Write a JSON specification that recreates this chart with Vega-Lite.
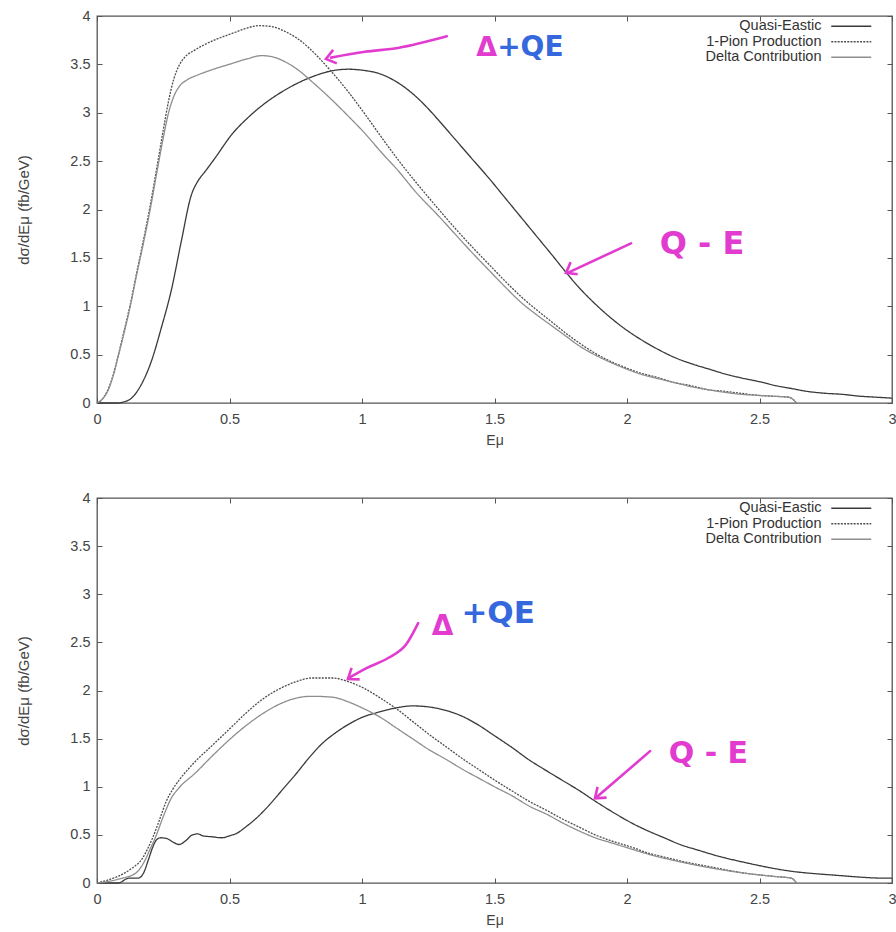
{
  "$schema": "https://vega.github.io/schema/vega-lite/v6.json",
  "background": "white",
  "padding": {"top": 7, "left": 16, "right": 0, "bottom": 0},
  "spacing": 40,
  "datasets": {
    "top": [
      {"s": "Quasi-Eastic", "E": 0, "v": 0}, {"s": "Quasi-Eastic", "E": 0.08, "v": 0}, {"s": "Quasi-Eastic", "E": 0.1, "v": 0.01}, {"s": "Quasi-Eastic", "E": 0.13, "v": 0.05}, {"s": "Quasi-Eastic", "E": 0.167, "v": 0.19}, {"s": "Quasi-Eastic", "E": 0.205, "v": 0.43}, {"s": "Quasi-Eastic", "E": 0.243, "v": 0.78}, {"s": "Quasi-Eastic", "E": 0.28, "v": 1.16}, {"s": "Quasi-Eastic", "E": 0.318, "v": 1.67}, {"s": "Quasi-Eastic", "E": 0.356, "v": 2.15}, {"s": "Quasi-Eastic", "E": 0.38, "v": 2.29}, {"s": "Quasi-Eastic", "E": 0.41, "v": 2.4}, {"s": "Quasi-Eastic", "E": 0.445, "v": 2.53}, {"s": "Quasi-Eastic", "E": 0.51, "v": 2.78}, {"s": "Quasi-Eastic", "E": 0.57, "v": 2.95}, {"s": "Quasi-Eastic", "E": 0.63, "v": 3.09}, {"s": "Quasi-Eastic", "E": 0.7, "v": 3.22}, {"s": "Quasi-Eastic", "E": 0.76, "v": 3.31}, {"s": "Quasi-Eastic", "E": 0.82, "v": 3.38}, {"s": "Quasi-Eastic", "E": 0.88, "v": 3.43}, {"s": "Quasi-Eastic", "E": 0.95, "v": 3.45}, {"s": "Quasi-Eastic", "E": 1.0, "v": 3.44}, {"s": "Quasi-Eastic", "E": 1.07, "v": 3.4}, {"s": "Quasi-Eastic", "E": 1.13, "v": 3.32}, {"s": "Quasi-Eastic", "E": 1.19, "v": 3.2}, {"s": "Quasi-Eastic", "E": 1.24, "v": 3.07}, {"s": "Quasi-Eastic", "E": 1.29, "v": 2.92}, {"s": "Quasi-Eastic", "E": 1.35, "v": 2.73}, {"s": "Quasi-Eastic", "E": 1.41, "v": 2.54}, {"s": "Quasi-Eastic", "E": 1.48, "v": 2.32}, {"s": "Quasi-Eastic", "E": 1.54, "v": 2.12}, {"s": "Quasi-Eastic", "E": 1.6, "v": 1.92}, {"s": "Quasi-Eastic", "E": 1.66, "v": 1.72}, {"s": "Quasi-Eastic", "E": 1.72, "v": 1.52}, {"s": "Quasi-Eastic", "E": 1.77, "v": 1.35}, {"s": "Quasi-Eastic", "E": 1.82, "v": 1.19}, {"s": "Quasi-Eastic", "E": 1.87, "v": 1.05}, {"s": "Quasi-Eastic", "E": 1.93, "v": 0.9}, {"s": "Quasi-Eastic", "E": 1.99, "v": 0.77}, {"s": "Quasi-Eastic", "E": 2.05, "v": 0.66}, {"s": "Quasi-Eastic", "E": 2.12, "v": 0.55}, {"s": "Quasi-Eastic", "E": 2.18, "v": 0.47}, {"s": "Quasi-Eastic", "E": 2.25, "v": 0.4}, {"s": "Quasi-Eastic", "E": 2.31, "v": 0.35}, {"s": "Quasi-Eastic", "E": 2.37, "v": 0.3}, {"s": "Quasi-Eastic", "E": 2.43, "v": 0.26}, {"s": "Quasi-Eastic", "E": 2.5, "v": 0.22}, {"s": "Quasi-Eastic", "E": 2.56, "v": 0.18}, {"s": "Quasi-Eastic", "E": 2.62, "v": 0.15}, {"s": "Quasi-Eastic", "E": 2.68, "v": 0.12}, {"s": "Quasi-Eastic", "E": 2.75, "v": 0.1}, {"s": "Quasi-Eastic", "E": 2.81, "v": 0.09}, {"s": "Quasi-Eastic", "E": 2.88, "v": 0.07}, {"s": "Quasi-Eastic", "E": 2.94, "v": 0.06}, {"s": "Quasi-Eastic", "E": 3.0, "v": 0.05},
      {"s": "1-Pion Production", "E": 0, "v": 0}, {"s": "1-Pion Production", "E": 0.02, "v": 0.04}, {"s": "1-Pion Production", "E": 0.04, "v": 0.13}, {"s": "1-Pion Production", "E": 0.06, "v": 0.28}, {"s": "1-Pion Production", "E": 0.079, "v": 0.48}, {"s": "1-Pion Production", "E": 0.1, "v": 0.72}, {"s": "1-Pion Production", "E": 0.124, "v": 1.0}, {"s": "1-Pion Production", "E": 0.15, "v": 1.35}, {"s": "1-Pion Production", "E": 0.175, "v": 1.68}, {"s": "1-Pion Production", "E": 0.2, "v": 2.03}, {"s": "1-Pion Production", "E": 0.225, "v": 2.42}, {"s": "1-Pion Production", "E": 0.25, "v": 2.82}, {"s": "1-Pion Production", "E": 0.27, "v": 3.12}, {"s": "1-Pion Production", "E": 0.29, "v": 3.35}, {"s": "1-Pion Production", "E": 0.31, "v": 3.49}, {"s": "1-Pion Production", "E": 0.33, "v": 3.57}, {"s": "1-Pion Production", "E": 0.37, "v": 3.65}, {"s": "1-Pion Production", "E": 0.41, "v": 3.71}, {"s": "1-Pion Production", "E": 0.46, "v": 3.77}, {"s": "1-Pion Production", "E": 0.51, "v": 3.82}, {"s": "1-Pion Production", "E": 0.56, "v": 3.87}, {"s": "1-Pion Production", "E": 0.61, "v": 3.9}, {"s": "1-Pion Production", "E": 0.66, "v": 3.89}, {"s": "1-Pion Production", "E": 0.71, "v": 3.84}, {"s": "1-Pion Production", "E": 0.76, "v": 3.76}, {"s": "1-Pion Production", "E": 0.8, "v": 3.67}, {"s": "1-Pion Production", "E": 0.84, "v": 3.56}, {"s": "1-Pion Production", "E": 0.88, "v": 3.44}, {"s": "1-Pion Production", "E": 0.95, "v": 3.21}, {"s": "1-Pion Production", "E": 1.01, "v": 2.99}, {"s": "1-Pion Production", "E": 1.07, "v": 2.76}, {"s": "1-Pion Production", "E": 1.14, "v": 2.5}, {"s": "1-Pion Production", "E": 1.21, "v": 2.26}, {"s": "1-Pion Production", "E": 1.29, "v": 2.0}, {"s": "1-Pion Production", "E": 1.35, "v": 1.81}, {"s": "1-Pion Production", "E": 1.41, "v": 1.63}, {"s": "1-Pion Production", "E": 1.48, "v": 1.43}, {"s": "1-Pion Production", "E": 1.54, "v": 1.26}, {"s": "1-Pion Production", "E": 1.6, "v": 1.1}, {"s": "1-Pion Production", "E": 1.66, "v": 0.96}, {"s": "1-Pion Production", "E": 1.72, "v": 0.83}, {"s": "1-Pion Production", "E": 1.77, "v": 0.72}, {"s": "1-Pion Production", "E": 1.82, "v": 0.62}, {"s": "1-Pion Production", "E": 1.87, "v": 0.53}, {"s": "1-Pion Production", "E": 1.93, "v": 0.44}, {"s": "1-Pion Production", "E": 1.99, "v": 0.37}, {"s": "1-Pion Production", "E": 2.05, "v": 0.31}, {"s": "1-Pion Production", "E": 2.12, "v": 0.26}, {"s": "1-Pion Production", "E": 2.18, "v": 0.21}, {"s": "1-Pion Production", "E": 2.24, "v": 0.18}, {"s": "1-Pion Production", "E": 2.3, "v": 0.14}, {"s": "1-Pion Production", "E": 2.37, "v": 0.12}, {"s": "1-Pion Production", "E": 2.43, "v": 0.1}, {"s": "1-Pion Production", "E": 2.49, "v": 0.08}, {"s": "1-Pion Production", "E": 2.55, "v": 0.07}, {"s": "1-Pion Production", "E": 2.61, "v": 0.06}, {"s": "1-Pion Production", "E": 2.64, "v": 0.0},
      {"s": "Delta Contribution", "E": 0, "v": 0}, {"s": "Delta Contribution", "E": 0.02, "v": 0.04}, {"s": "Delta Contribution", "E": 0.04, "v": 0.12}, {"s": "Delta Contribution", "E": 0.06, "v": 0.27}, {"s": "Delta Contribution", "E": 0.079, "v": 0.47}, {"s": "Delta Contribution", "E": 0.1, "v": 0.7}, {"s": "Delta Contribution", "E": 0.124, "v": 0.98}, {"s": "Delta Contribution", "E": 0.15, "v": 1.33}, {"s": "Delta Contribution", "E": 0.175, "v": 1.65}, {"s": "Delta Contribution", "E": 0.2, "v": 1.99}, {"s": "Delta Contribution", "E": 0.225, "v": 2.37}, {"s": "Delta Contribution", "E": 0.25, "v": 2.74}, {"s": "Delta Contribution", "E": 0.27, "v": 3.0}, {"s": "Delta Contribution", "E": 0.29, "v": 3.17}, {"s": "Delta Contribution", "E": 0.31, "v": 3.27}, {"s": "Delta Contribution", "E": 0.34, "v": 3.34}, {"s": "Delta Contribution", "E": 0.38, "v": 3.39}, {"s": "Delta Contribution", "E": 0.44, "v": 3.45}, {"s": "Delta Contribution", "E": 0.51, "v": 3.51}, {"s": "Delta Contribution", "E": 0.57, "v": 3.56}, {"s": "Delta Contribution", "E": 0.62, "v": 3.59}, {"s": "Delta Contribution", "E": 0.66, "v": 3.58}, {"s": "Delta Contribution", "E": 0.7, "v": 3.54}, {"s": "Delta Contribution", "E": 0.75, "v": 3.46}, {"s": "Delta Contribution", "E": 0.82, "v": 3.3}, {"s": "Delta Contribution", "E": 0.88, "v": 3.15}, {"s": "Delta Contribution", "E": 0.95, "v": 2.96}, {"s": "Delta Contribution", "E": 1.01, "v": 2.79}, {"s": "Delta Contribution", "E": 1.07, "v": 2.6}, {"s": "Delta Contribution", "E": 1.14, "v": 2.39}, {"s": "Delta Contribution", "E": 1.2, "v": 2.19}, {"s": "Delta Contribution", "E": 1.29, "v": 1.93}, {"s": "Delta Contribution", "E": 1.35, "v": 1.75}, {"s": "Delta Contribution", "E": 1.41, "v": 1.57}, {"s": "Delta Contribution", "E": 1.48, "v": 1.37}, {"s": "Delta Contribution", "E": 1.54, "v": 1.2}, {"s": "Delta Contribution", "E": 1.6, "v": 1.04}, {"s": "Delta Contribution", "E": 1.66, "v": 0.91}, {"s": "Delta Contribution", "E": 1.72, "v": 0.79}, {"s": "Delta Contribution", "E": 1.77, "v": 0.69}, {"s": "Delta Contribution", "E": 1.82, "v": 0.59}, {"s": "Delta Contribution", "E": 1.87, "v": 0.51}, {"s": "Delta Contribution", "E": 1.93, "v": 0.43}, {"s": "Delta Contribution", "E": 1.99, "v": 0.36}, {"s": "Delta Contribution", "E": 2.05, "v": 0.3}, {"s": "Delta Contribution", "E": 2.12, "v": 0.25}, {"s": "Delta Contribution", "E": 2.18, "v": 0.21}, {"s": "Delta Contribution", "E": 2.24, "v": 0.17}, {"s": "Delta Contribution", "E": 2.3, "v": 0.14}, {"s": "Delta Contribution", "E": 2.37, "v": 0.11}, {"s": "Delta Contribution", "E": 2.43, "v": 0.09}, {"s": "Delta Contribution", "E": 2.49, "v": 0.08}, {"s": "Delta Contribution", "E": 2.55, "v": 0.07}, {"s": "Delta Contribution", "E": 2.61, "v": 0.06}, {"s": "Delta Contribution", "E": 2.64, "v": 0.0}
    ],
    "bottom": [
      {"s": "Quasi-Eastic", "E": 0, "v": 0}, {"s": "Quasi-Eastic", "E": 0.08, "v": 0}, {"s": "Quasi-Eastic", "E": 0.12, "v": 0.05}, {"s": "Quasi-Eastic", "E": 0.155, "v": 0.05}, {"s": "Quasi-Eastic", "E": 0.175, "v": 0.1}, {"s": "Quasi-Eastic", "E": 0.195, "v": 0.25}, {"s": "Quasi-Eastic", "E": 0.21, "v": 0.37}, {"s": "Quasi-Eastic", "E": 0.225, "v": 0.45}, {"s": "Quasi-Eastic", "E": 0.24, "v": 0.47}, {"s": "Quasi-Eastic", "E": 0.265, "v": 0.46}, {"s": "Quasi-Eastic", "E": 0.29, "v": 0.42}, {"s": "Quasi-Eastic", "E": 0.31, "v": 0.4}, {"s": "Quasi-Eastic", "E": 0.335, "v": 0.44}, {"s": "Quasi-Eastic", "E": 0.36, "v": 0.5}, {"s": "Quasi-Eastic", "E": 0.38, "v": 0.51}, {"s": "Quasi-Eastic", "E": 0.4, "v": 0.49}, {"s": "Quasi-Eastic", "E": 0.435, "v": 0.48}, {"s": "Quasi-Eastic", "E": 0.47, "v": 0.47}, {"s": "Quasi-Eastic", "E": 0.5, "v": 0.49}, {"s": "Quasi-Eastic", "E": 0.53, "v": 0.52}, {"s": "Quasi-Eastic", "E": 0.56, "v": 0.58}, {"s": "Quasi-Eastic", "E": 0.6, "v": 0.67}, {"s": "Quasi-Eastic", "E": 0.65, "v": 0.81}, {"s": "Quasi-Eastic", "E": 0.7, "v": 0.97}, {"s": "Quasi-Eastic", "E": 0.75, "v": 1.13}, {"s": "Quasi-Eastic", "E": 0.8, "v": 1.3}, {"s": "Quasi-Eastic", "E": 0.85, "v": 1.45}, {"s": "Quasi-Eastic", "E": 0.9, "v": 1.56}, {"s": "Quasi-Eastic", "E": 0.95, "v": 1.65}, {"s": "Quasi-Eastic", "E": 1.0, "v": 1.72}, {"s": "Quasi-Eastic", "E": 1.07, "v": 1.78}, {"s": "Quasi-Eastic", "E": 1.13, "v": 1.82}, {"s": "Quasi-Eastic", "E": 1.19, "v": 1.84}, {"s": "Quasi-Eastic", "E": 1.25, "v": 1.83}, {"s": "Quasi-Eastic", "E": 1.32, "v": 1.79}, {"s": "Quasi-Eastic", "E": 1.38, "v": 1.73}, {"s": "Quasi-Eastic", "E": 1.44, "v": 1.64}, {"s": "Quasi-Eastic", "E": 1.5, "v": 1.53}, {"s": "Quasi-Eastic", "E": 1.57, "v": 1.4}, {"s": "Quasi-Eastic", "E": 1.63, "v": 1.28}, {"s": "Quasi-Eastic", "E": 1.7, "v": 1.16}, {"s": "Quasi-Eastic", "E": 1.76, "v": 1.06}, {"s": "Quasi-Eastic", "E": 1.82, "v": 0.96}, {"s": "Quasi-Eastic", "E": 1.88, "v": 0.85}, {"s": "Quasi-Eastic", "E": 1.95, "v": 0.73}, {"s": "Quasi-Eastic", "E": 2.02, "v": 0.62}, {"s": "Quasi-Eastic", "E": 2.08, "v": 0.54}, {"s": "Quasi-Eastic", "E": 2.14, "v": 0.47}, {"s": "Quasi-Eastic", "E": 2.2, "v": 0.4}, {"s": "Quasi-Eastic", "E": 2.27, "v": 0.34}, {"s": "Quasi-Eastic", "E": 2.33, "v": 0.29}, {"s": "Quasi-Eastic", "E": 2.45, "v": 0.21}, {"s": "Quasi-Eastic", "E": 2.6, "v": 0.13}, {"s": "Quasi-Eastic", "E": 2.79, "v": 0.08}, {"s": "Quasi-Eastic", "E": 2.98, "v": 0.05}, {"s": "Quasi-Eastic", "E": 3.0, "v": 0.05},
      {"s": "1-Pion Production", "E": 0, "v": 0}, {"s": "1-Pion Production", "E": 0.04, "v": 0.03}, {"s": "1-Pion Production", "E": 0.08, "v": 0.07}, {"s": "1-Pion Production", "E": 0.13, "v": 0.15}, {"s": "1-Pion Production", "E": 0.17, "v": 0.25}, {"s": "1-Pion Production", "E": 0.19, "v": 0.35}, {"s": "1-Pion Production", "E": 0.21, "v": 0.47}, {"s": "1-Pion Production", "E": 0.235, "v": 0.65}, {"s": "1-Pion Production", "E": 0.26, "v": 0.84}, {"s": "1-Pion Production", "E": 0.285, "v": 0.97}, {"s": "1-Pion Production", "E": 0.31, "v": 1.07}, {"s": "1-Pion Production", "E": 0.34, "v": 1.17}, {"s": "1-Pion Production", "E": 0.37, "v": 1.26}, {"s": "1-Pion Production", "E": 0.435, "v": 1.43}, {"s": "1-Pion Production", "E": 0.5, "v": 1.6}, {"s": "1-Pion Production", "E": 0.56, "v": 1.76}, {"s": "1-Pion Production", "E": 0.62, "v": 1.9}, {"s": "1-Pion Production", "E": 0.69, "v": 2.02}, {"s": "1-Pion Production", "E": 0.75, "v": 2.09}, {"s": "1-Pion Production", "E": 0.81, "v": 2.13}, {"s": "1-Pion Production", "E": 0.89, "v": 2.13}, {"s": "1-Pion Production", "E": 0.95, "v": 2.09}, {"s": "1-Pion Production", "E": 1.01, "v": 2.02}, {"s": "1-Pion Production", "E": 1.07, "v": 1.92}, {"s": "1-Pion Production", "E": 1.13, "v": 1.81}, {"s": "1-Pion Production", "E": 1.19, "v": 1.68}, {"s": "1-Pion Production", "E": 1.25, "v": 1.55}, {"s": "1-Pion Production", "E": 1.32, "v": 1.41}, {"s": "1-Pion Production", "E": 1.38, "v": 1.29}, {"s": "1-Pion Production", "E": 1.44, "v": 1.18}, {"s": "1-Pion Production", "E": 1.5, "v": 1.07}, {"s": "1-Pion Production", "E": 1.57, "v": 0.95}, {"s": "1-Pion Production", "E": 1.63, "v": 0.85}, {"s": "1-Pion Production", "E": 1.7, "v": 0.75}, {"s": "1-Pion Production", "E": 1.76, "v": 0.66}, {"s": "1-Pion Production", "E": 1.82, "v": 0.58}, {"s": "1-Pion Production", "E": 1.88, "v": 0.5}, {"s": "1-Pion Production", "E": 1.95, "v": 0.43}, {"s": "1-Pion Production", "E": 2.02, "v": 0.37}, {"s": "1-Pion Production", "E": 2.08, "v": 0.31}, {"s": "1-Pion Production", "E": 2.14, "v": 0.27}, {"s": "1-Pion Production", "E": 2.2, "v": 0.23}, {"s": "1-Pion Production", "E": 2.33, "v": 0.16}, {"s": "1-Pion Production", "E": 2.45, "v": 0.1}, {"s": "1-Pion Production", "E": 2.55, "v": 0.07}, {"s": "1-Pion Production", "E": 2.62, "v": 0.05}, {"s": "1-Pion Production", "E": 2.64, "v": 0.0},
      {"s": "Delta Contribution", "E": 0, "v": 0}, {"s": "Delta Contribution", "E": 0.05, "v": 0.02}, {"s": "Delta Contribution", "E": 0.08, "v": 0.04}, {"s": "Delta Contribution", "E": 0.145, "v": 0.1}, {"s": "Delta Contribution", "E": 0.18, "v": 0.23}, {"s": "Delta Contribution", "E": 0.2, "v": 0.35}, {"s": "Delta Contribution", "E": 0.22, "v": 0.47}, {"s": "Delta Contribution", "E": 0.25, "v": 0.69}, {"s": "Delta Contribution", "E": 0.28, "v": 0.88}, {"s": "Delta Contribution", "E": 0.31, "v": 0.99}, {"s": "Delta Contribution", "E": 0.37, "v": 1.14}, {"s": "Delta Contribution", "E": 0.435, "v": 1.32}, {"s": "Delta Contribution", "E": 0.5, "v": 1.49}, {"s": "Delta Contribution", "E": 0.56, "v": 1.63}, {"s": "Delta Contribution", "E": 0.62, "v": 1.75}, {"s": "Delta Contribution", "E": 0.69, "v": 1.86}, {"s": "Delta Contribution", "E": 0.75, "v": 1.92}, {"s": "Delta Contribution", "E": 0.81, "v": 1.94}, {"s": "Delta Contribution", "E": 0.89, "v": 1.93}, {"s": "Delta Contribution", "E": 0.95, "v": 1.88}, {"s": "Delta Contribution", "E": 1.0, "v": 1.82}, {"s": "Delta Contribution", "E": 1.07, "v": 1.72}, {"s": "Delta Contribution", "E": 1.13, "v": 1.61}, {"s": "Delta Contribution", "E": 1.19, "v": 1.5}, {"s": "Delta Contribution", "E": 1.25, "v": 1.39}, {"s": "Delta Contribution", "E": 1.32, "v": 1.28}, {"s": "Delta Contribution", "E": 1.38, "v": 1.18}, {"s": "Delta Contribution", "E": 1.44, "v": 1.09}, {"s": "Delta Contribution", "E": 1.5, "v": 1.0}, {"s": "Delta Contribution", "E": 1.57, "v": 0.9}, {"s": "Delta Contribution", "E": 1.63, "v": 0.8}, {"s": "Delta Contribution", "E": 1.7, "v": 0.71}, {"s": "Delta Contribution", "E": 1.76, "v": 0.62}, {"s": "Delta Contribution", "E": 1.82, "v": 0.54}, {"s": "Delta Contribution", "E": 1.88, "v": 0.47}, {"s": "Delta Contribution", "E": 1.95, "v": 0.41}, {"s": "Delta Contribution", "E": 2.02, "v": 0.35}, {"s": "Delta Contribution", "E": 2.08, "v": 0.3}, {"s": "Delta Contribution", "E": 2.2, "v": 0.22}, {"s": "Delta Contribution", "E": 2.33, "v": 0.15}, {"s": "Delta Contribution", "E": 2.45, "v": 0.1}, {"s": "Delta Contribution", "E": 2.55, "v": 0.07}, {"s": "Delta Contribution", "E": 2.62, "v": 0.05}, {"s": "Delta Contribution", "E": 2.64, "v": 0.0}
    ],
    "topArrows": [
      {"a": "d", "E": 1.32, "v": 3.79}, {"a": "d", "E": 1.136, "v": 3.67}, {"a": "d", "E": 1.011, "v": 3.63}, {"a": "d", "E": 0.883, "v": 3.57},
      {"a": "q", "E": 2.015, "v": 1.65}, {"a": "q", "E": 1.78, "v": 1.35}
    ],
    "bottomArrows": [
      {"a": "d", "E": 1.212, "v": 2.7}, {"a": "d", "E": 1.167, "v": 2.48}, {"a": "d", "E": 1.1, "v": 2.34}, {"a": "d", "E": 1.015, "v": 2.23}, {"a": "d", "E": 0.95, "v": 2.13},
      {"a": "q", "E": 2.087, "v": 1.37}, {"a": "q", "E": 1.885, "v": 0.89}
    ]
  },
  "vconcat": [
    {
      "width": 795,
      "height": 387,
      "layer": [
        {
          "data": {"name": "top"},
          "mark": {"type": "line", "strokeWidth": 1.3, "interpolate": "monotone"},
          "encoding": {
            "x": {"field": "E", "type": "quantitative", "scale": {"domain": [0, 3], "nice": false}, "axis": {"orient": "bottom", "title": "Eμ", "values": [0, 0.5, 1, 1.5, 2, 2.5, 3], "labelExpr": "datum.value"}},
            "y": {"field": "v", "type": "quantitative", "scale": {"domain": [0, 4], "nice": false}, "axis": {"orient": "left", "title": "dσ/dEμ (fb/GeV)", "values": [0, 0.5, 1, 1.5, 2, 2.5, 3, 3.5, 4], "labelExpr": "datum.value"}},
            "color": {"field": "s", "type": "nominal", "scale": {"domain": ["Quasi-Eastic", "1-Pion Production", "Delta Contribution"], "range": ["#3a3a3a", "#4e4e4e", "#8e8e8e"]}, "legend": {"title": null}},
            "strokeDash": {"field": "s", "type": "nominal", "scale": {"domain": ["Quasi-Eastic", "1-Pion Production", "Delta Contribution"], "range": [[1, 0], [2, 1.2], [1, 0]]}, "legend": {"title": null}}
          }
        },
        {
          "data": {"name": "top"},
          "mark": {"type": "line", "opacity": 0},
          "encoding": {
            "x": {"field": "E", "type": "quantitative", "axis": {"orient": "top", "labels": false, "title": null, "values": [0, 0.5, 1, 1.5, 2, 2.5, 3]}},
            "y": {"field": "v", "type": "quantitative", "axis": {"orient": "right", "labels": false, "title": null, "values": [0, 0.5, 1, 1.5, 2, 2.5, 3, 3.5, 4]}}
          }
        },
        {
          "data": {"name": "topArrows"},
          "mark": {"type": "line", "color": "#e23bd0", "strokeWidth": 2.6, "strokeCap": "round", "interpolate": "monotone"},
          "encoding": {
            "x": {"field": "E", "type": "quantitative", "axis": null},
            "y": {"field": "v", "type": "quantitative", "axis": null},
            "detail": {"field": "a", "type": "nominal"}
          }
        },
        {
          "data": {"values": [{"E": 0.864, "v": 3.555}]},
          "mark": {"type": "point", "shape": "M-1,-0.75L0,0L-1,0.75", "filled": false, "stroke": "#e23bd0", "strokeWidth": 2.6, "size": 350, "angle": 165, "opacity": 1},
          "encoding": {"x": {"field": "E", "type": "quantitative", "axis": null}, "y": {"field": "v", "type": "quantitative", "axis": null}}
        },
        {
          "data": {"values": [{"E": 1.77, "v": 1.345}]},
          "mark": {"type": "point", "shape": "M-1,-0.75L0,0L-1,0.75", "filled": false, "stroke": "#e23bd0", "strokeWidth": 2.6, "size": 350, "angle": 150, "opacity": 1},
          "encoding": {"x": {"field": "E", "type": "quantitative", "axis": null}, "y": {"field": "v", "type": "quantitative", "axis": null}}
        },
        {
          "data": {"values": [{"E": 1.51, "v": 3.67, "t": "Δ"}]},
          "mark": {"type": "text", "align": "right", "baseline": "middle", "font": "DejaVu Sans", "fontWeight": "bold", "fontSize": 27, "color": "#e23bd0"},
          "encoding": {"x": {"field": "E", "type": "quantitative", "axis": null}, "y": {"field": "v", "type": "quantitative", "axis": null}, "text": {"field": "t"}}
        },
        {
          "data": {"values": [{"E": 1.51, "v": 3.67, "t": "+QE"}]},
          "mark": {"type": "text", "align": "left", "baseline": "middle", "font": "DejaVu Sans", "fontWeight": "bold", "fontSize": 28, "color": "#3567dd"},
          "encoding": {"x": {"field": "E", "type": "quantitative", "axis": null}, "y": {"field": "v", "type": "quantitative", "axis": null}, "text": {"field": "t"}}
        },
        {
          "data": {"values": [{"E": 2.283, "v": 1.64, "t": "Q - E"}]},
          "mark": {"type": "text", "align": "center", "baseline": "middle", "font": "DejaVu Sans", "fontWeight": "bold", "fontSize": 32, "color": "#e23bd0"},
          "encoding": {"x": {"field": "E", "type": "quantitative", "axis": null}, "y": {"field": "v", "type": "quantitative", "axis": null}, "text": {"field": "t"}}
        }
      ],
      "resolve": {"axis": {"x": "independent", "y": "independent"}}
    },
    {
      "width": 795,
      "height": 385,
      "layer": [
        {
          "data": {"name": "bottom"},
          "mark": {"type": "line", "strokeWidth": 1.3, "interpolate": "monotone"},
          "encoding": {
            "x": {"field": "E", "type": "quantitative", "scale": {"domain": [0, 3], "nice": false}, "axis": {"orient": "bottom", "title": "Eμ", "values": [0, 0.5, 1, 1.5, 2, 2.5, 3], "labelExpr": "datum.value"}},
            "y": {"field": "v", "type": "quantitative", "scale": {"domain": [0, 4], "nice": false}, "axis": {"orient": "left", "title": "dσ/dEμ (fb/GeV)", "values": [0, 0.5, 1, 1.5, 2, 2.5, 3, 3.5, 4], "labelExpr": "datum.value"}},
            "color": {"field": "s", "type": "nominal", "scale": {"domain": ["Quasi-Eastic", "1-Pion Production", "Delta Contribution"], "range": ["#3a3a3a", "#4e4e4e", "#8e8e8e"]}, "legend": {"title": null}},
            "strokeDash": {"field": "s", "type": "nominal", "scale": {"domain": ["Quasi-Eastic", "1-Pion Production", "Delta Contribution"], "range": [[1, 0], [2, 1.2], [1, 0]]}, "legend": {"title": null}}
          }
        },
        {
          "data": {"name": "bottom"},
          "mark": {"type": "line", "opacity": 0},
          "encoding": {
            "x": {"field": "E", "type": "quantitative", "axis": {"orient": "top", "labels": false, "title": null, "values": [0, 0.5, 1, 1.5, 2, 2.5, 3]}},
            "y": {"field": "v", "type": "quantitative", "axis": {"orient": "right", "labels": false, "title": null, "values": [0, 0.5, 1, 1.5, 2, 2.5, 3, 3.5, 4]}}
          }
        },
        {
          "data": {"name": "bottomArrows"},
          "mark": {"type": "line", "color": "#e23bd0", "strokeWidth": 2.6, "strokeCap": "round", "interpolate": "monotone"},
          "encoding": {
            "x": {"field": "E", "type": "quantitative", "axis": null},
            "y": {"field": "v", "type": "quantitative", "axis": null},
            "detail": {"field": "a", "type": "nominal"}
          }
        },
        {
          "data": {"values": [{"E": 0.947, "v": 2.12}]},
          "mark": {"type": "point", "shape": "M-1,-0.75L0,0L-1,0.75", "filled": false, "stroke": "#e23bd0", "strokeWidth": 2.6, "size": 350, "angle": 145, "opacity": 1},
          "encoding": {"x": {"field": "E", "type": "quantitative", "axis": null}, "y": {"field": "v", "type": "quantitative", "axis": null}}
        },
        {
          "data": {"values": [{"E": 1.879, "v": 0.88}]},
          "mark": {"type": "point", "shape": "M-1,-0.75L0,0L-1,0.75", "filled": false, "stroke": "#e23bd0", "strokeWidth": 2.6, "size": 350, "angle": 140, "opacity": 1},
          "encoding": {"x": {"field": "E", "type": "quantitative", "axis": null}, "y": {"field": "v", "type": "quantitative", "axis": null}}
        },
        {
          "data": {"values": [{"E": 1.345, "v": 2.66, "t": "Δ"}]},
          "mark": {"type": "text", "align": "right", "baseline": "middle", "font": "DejaVu Sans", "fontWeight": "bold", "fontSize": 28, "color": "#e23bd0"},
          "encoding": {"x": {"field": "E", "type": "quantitative", "axis": null}, "y": {"field": "v", "type": "quantitative", "axis": null}, "text": {"field": "t"}}
        },
        {
          "data": {"values": [{"E": 1.375, "v": 2.79, "t": "+QE"}]},
          "mark": {"type": "text", "align": "left", "baseline": "middle", "font": "DejaVu Sans", "fontWeight": "bold", "fontSize": 31, "color": "#3567dd"},
          "encoding": {"x": {"field": "E", "type": "quantitative", "axis": null}, "y": {"field": "v", "type": "quantitative", "axis": null}, "text": {"field": "t"}}
        },
        {
          "data": {"values": [{"E": 2.307, "v": 1.34, "t": "Q - E"}]},
          "mark": {"type": "text", "align": "center", "baseline": "middle", "font": "DejaVu Sans", "fontWeight": "bold", "fontSize": 30, "color": "#e23bd0"},
          "encoding": {"x": {"field": "E", "type": "quantitative", "axis": null}, "y": {"field": "v", "type": "quantitative", "axis": null}, "text": {"field": "t"}}
        }
      ],
      "resolve": {"axis": {"x": "independent", "y": "independent"}}
    }
  ],
  "resolve": {"scale": {"color": "independent", "strokeDash": "independent"}},
  "config": {
    "font": "Liberation Sans",
    "view": {"stroke": "#555555", "strokeWidth": 1.3},
    "axis": {
      "domain": false, "grid": false, "ticks": true, "tickSize": -5, "tickColor": "#555555", "tickWidth": 1,
      "labelFont": "Liberation Sans", "labelFontSize": 14.5, "labelColor": "#444444",
      "titleFont": "Liberation Sans", "titleFontSize": 14, "titleFontWeight": "normal", "titleColor": "#444444"
    },
    "axisX": {"labelPadding": 14, "titlePadding": 8, "labelFlush": false},
    "axisY": {"labelPadding": 12, "titlePadding": 38, "titleFontSize": 15},
    "legend": {
      "orient": "top-right", "offset": 3, "padding": 0,
      "labelFont": "Liberation Sans", "labelFontSize": 14.5, "labelColor": "#333333",
      "labelAlign": "right", "labelOffset": -12,
      "symbolType": "M1,0H9M12,0", "symbolSize": 100, "symbolStrokeWidth": 1.3, "rowPadding": 0.5
    }
  }
}
